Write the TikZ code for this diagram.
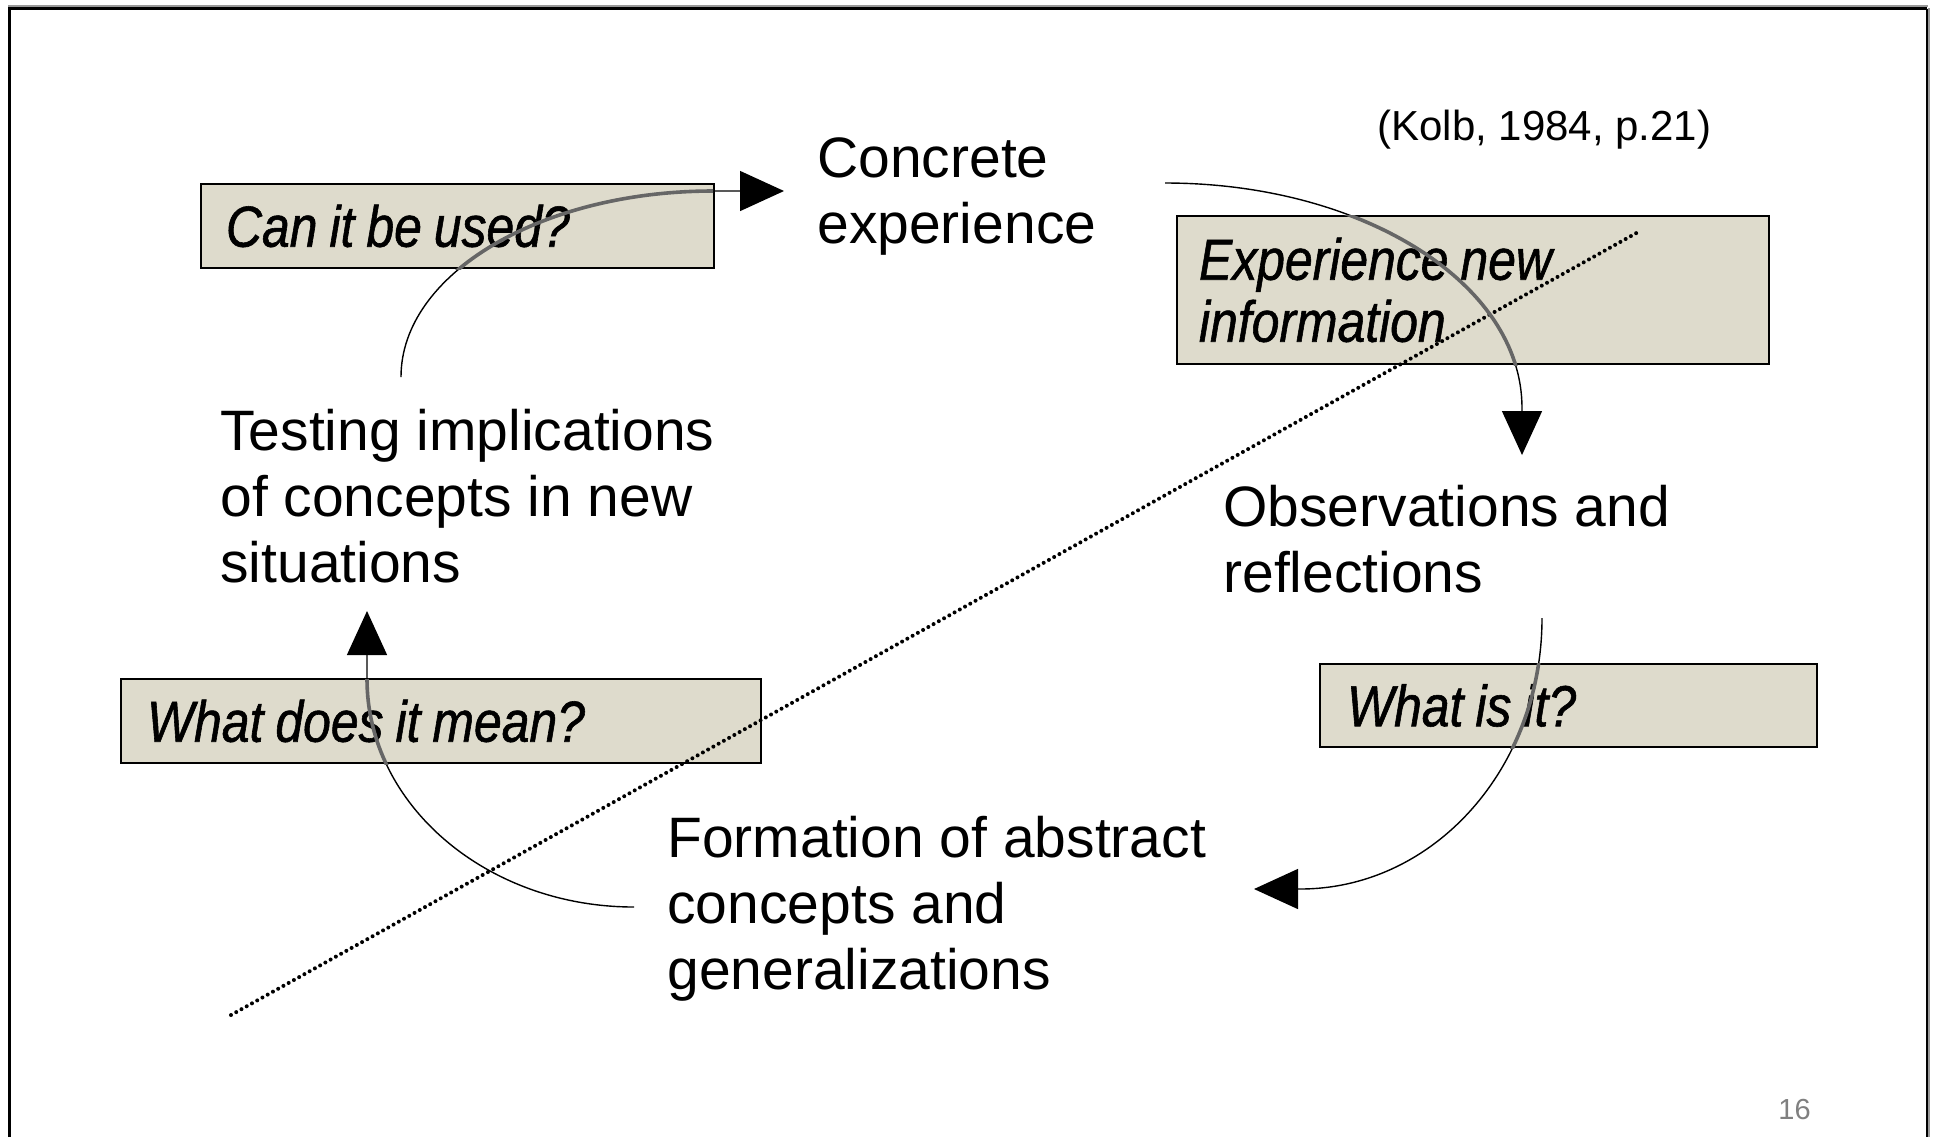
\documentclass[tikz,border=0pt]{standalone}
\usepackage{fontspec}
\setmainfont{Liberation Sans}
\newfontfamily\boxfont[FakeStretch=0.86, FakeBold=1]{Liberation Sans}
\usetikzlibrary{arrows.meta,calc}
\definecolor{boxfill}{RGB}{222,219,204}
\definecolor{pagenum}{RGB}{128,128,128}
\tikzset{
 maintext/.style={anchor=north west, inner sep=0pt, align=left, font=\fontsize{28.5}{33}\selectfont},
 qbox/.style={anchor=north west, draw=black, line width=1pt, fill=boxfill, inner ysep=0pt, align=left, font=\boxfont\itshape\fontsize{29}{31}\selectfont, execute at begin node={\spaceskip=6pt plus 1.5pt\relax}},
 conn/.style={line width=0.7pt, -{Triangle[length=22pt,width=20pt]}},
 conninbox/.style={line width=1.8pt, draw=black!60},
 dotline/.style={line width=2pt, line cap=round, dash pattern=on 0pt off 3pt},
 framegray/.style={draw=black!40, line width=1pt},
 frameblack/.style={draw=black, line width=1.5pt},
}
\begin{document}
\begin{tikzpicture}[x=0.5pt,y=-0.5pt]
\useasboundingbox (0,0) rectangle (1937,1137);
\fill[white] (0,0) rectangle (1937,1137);
% frame
\coordinate (ftl) at (8,5.5);
\coordinate (ftr) at (1928,5.5);
\draw[framegray] (ftl) -- (ftr);
\coordinate (fl1) at (9,8.5);
\coordinate (fr1) at (1927,8.5);
\coordinate (fl2) at (9,1137);
\coordinate (fr2) at (1927,1137);
\draw[frameblack] (fl2) -- (fl1) -- (fr1);
\draw[draw=black, line width=1pt] (fr1) -- (fr2);
\coordinate (frg1) at (1929,8);
\coordinate (frg2) at (1929,1137);
\draw[framegray] (frg1) -- (frg2);

% question boxes
\node[qbox, inner xsep=12.5pt, text width=231.5pt, minimum height=42pt] (b1) at (200,183) {Can it be used?};
\node[qbox, inner xsep=11pt, text width=274pt, minimum height=74pt] (b2) at (1176,215) {Experience new\\information};
\node[qbox, inner xsep=13.5pt, text width=221.5pt, minimum height=41.5pt] (b3) at (1319,663) {What is it?};
\node[qbox, inner xsep=13pt, text width=294pt, minimum height=42pt] (b4) at (120,678) {What does it mean?};

% main texts
\node[maintext] (ce) at (817,137) {Concrete\\experience};
\node[maintext] (ti) at (220,409) {Testing implications\\of concepts in new\\situations};
\node[maintext] (ob) at (1223,485) {Observations and\\reflections};
\node[maintext] (fa) at (667,816) {Formation of abstract\\concepts and\\generalizations};
\node[anchor=base west, inner sep=0pt, font=\fontsize{21}{25}\selectfont] (kolb) at (1377,140) {(Kolb, 1984, p.21)};
\node[anchor=base west, inner sep=0pt, font=\fontsize{14.5}{17}\selectfont, text=pagenum] (pg) at (1778,1119) {16};

% dotted diagonal
\coordinate (d1) at (231,1015);
\coordinate (d2) at (1640,231);
\draw[dotline] (d1) -- (d2);

% cycle arrows
\draw[conn] ($(ti.north west)+(181,-32)$) .. controls +(0,-103) and +(-172,0) .. ($(ce.north west)+(-104,54)$) -- ($(ce.north west)+(-33,54)$);
\draw[conn] ($(ce.north west)+(348,46)$) .. controls +(197,0) and +(0,-125) .. ($(ob.north west)+(299,-77)$) -- ($(ob.north west)+(299,-30)$);
\draw[conn] ($(ob.north west)+(319,133)$) .. controls +(0,150) and +(134,0) .. ($(fa.north west)+(633,73)$) -- ($(fa.north west)+(587,73)$);
\draw[conn] ($(fa.north west)+(-33,91)$) .. controls +(-147,0) and +(0,126) .. ($(ti.north west)+(147,270)$) -- ($(ti.north west)+(147,202)$);

% darker parts of the arrows over the boxes
\begin{scope}
\clip (b1.south west) rectangle (b1.north east);
\draw[conninbox] ($(ti.north west)+(181,-32)$) .. controls +(0,-103) and +(-172,0) .. ($(ce.north west)+(-104,54)$);
\end{scope}
\begin{scope}
\clip (b2.south west) rectangle (b2.north east);
\draw[conninbox] ($(ce.north west)+(348,46)$) .. controls +(197,0) and +(0,-125) .. ($(ob.north west)+(299,-77)$);
\end{scope}
\begin{scope}
\clip (b3.south west) rectangle (b3.north east);
\draw[conninbox] ($(ob.north west)+(319,133)$) .. controls +(0,150) and +(134,0) .. ($(fa.north west)+(633,73)$);
\end{scope}
\begin{scope}
\clip (b4.south west) rectangle (b4.north east);
\draw[conninbox] ($(fa.north west)+(-33,91)$) .. controls +(-147,0) and +(0,126) .. ($(ti.north west)+(147,270)$);
\end{scope}
\end{tikzpicture}
\end{document}
